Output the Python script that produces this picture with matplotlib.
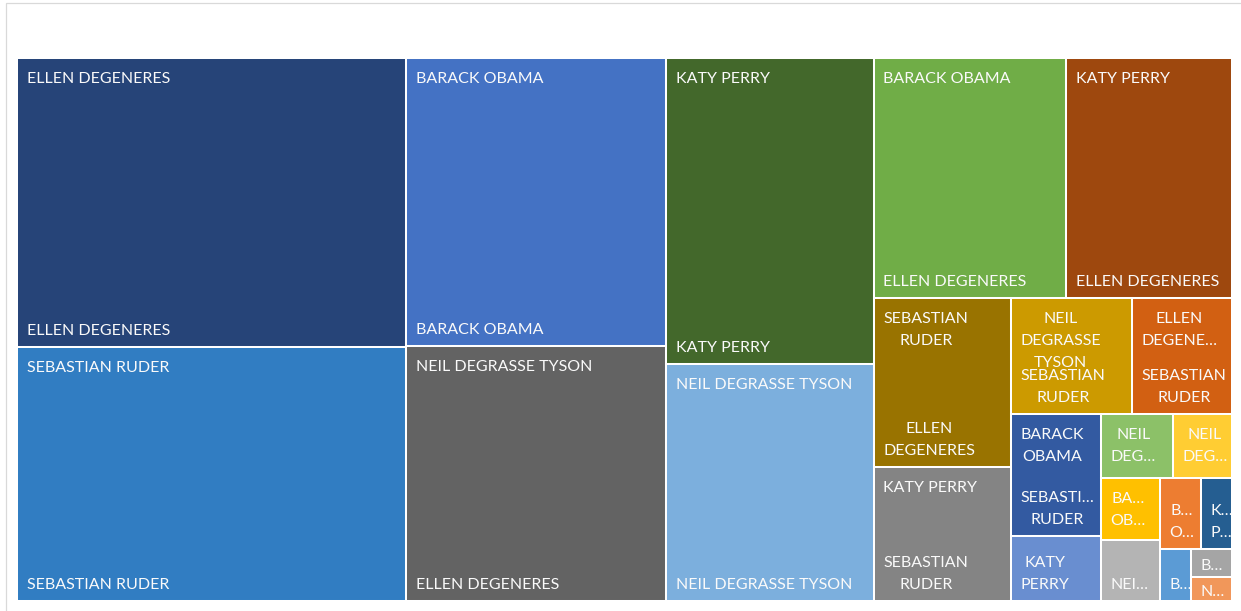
import matplotlib
matplotlib.use("Agg")
import matplotlib.pyplot as plt
from matplotlib.patches import Rectangle

# Leaf values, largest first (squarified order)
values = [170.3, 149.7, 113.5, 100.5, 96.5, 74.7, 69.9, 60.4, 35.1, 27.8,
          21.3, 17.6, 16.6, 8.9, 6.9, 5.7, 5.6, 5.4, 4.4, 3.4, 2.5, 1.7, 1.5]

top_labels = [
    "ELLEN DEGENERES", "SEBASTIAN RUDER", "BARACK OBAMA", "NEIL DEGRASSE TYSON",
    "KATY PERRY", "NEIL DEGRASSE TYSON", "BARACK OBAMA", "KATY PERRY",
    "SEBASTIAN\nRUDER", "KATY PERRY", "NEIL\nDEGRASSE\nTYSON", "ELLEN\nDEGENE\u2026",
    "BARACK\nOBAMA", "", "NEIL\nDEG\u2026", "NEIL\nDEG\u2026", "BA\u2026\nOB\u2026",
    "", "", "", "", "B\u2026", "",
]

bottom_labels = [
    "ELLEN DEGENERES", "SEBASTIAN RUDER", "BARACK OBAMA", "ELLEN DEGENERES",
    "KATY PERRY", "NEIL DEGRASSE TYSON", "ELLEN DEGENERES", "ELLEN DEGENERES",
    "ELLEN\nDEGENERES", "SEBASTIAN\nRUDER", "SEBASTIAN\nRUDER", "SEBASTIAN\nRUDER",
    "SEBASTI\u2026\nRUDER", "KATY\nPERRY", "", "", "",
    "NEI\u2026", "B\u2026\nO\u2026", "K\u2026\nP\u2026", "B\u2026", "", "N\u2026",
]

colors = [
    "#264478", "#317DC2", "#4472C4", "#636363", "#43682B", "#7CAFDD",
    "#70AD47", "#9E480E", "#997300", "#848484", "#CC9A00", "#D26012",
    "#335AA1", "#698ED0", "#8CC168", "#FFCD33", "#FFC000", "#B4B4B4",
    "#ED7D31", "#255E91", "#5B9BD5", "#A5A5A5", "#F1975A",
]

# How many leaves go into each successive strip of the squarified layout
strip_sizes = [2, 2, 2, 2, 2, 2, 2, 2, 2, 2, 1, 1, 1]

W_PX, H_PX = 1241, 611
fig = plt.figure(figsize=(W_PX / 100, H_PX / 100), dpi=100)
ax = fig.add_axes([0, 0, 1, 1])
ax.set_xlim(0, W_PX)
ax.set_ylim(H_PX, 0)
ax.axis("off")

# chart-area frame
ax.plot([6, 6, W_PX + 5], [H_PX + 5, 2.5, 2.5], color="#D9D9D9", lw=0.9,
        clip_on=False, solid_joinstyle="miter")


def squarify_strips(vals, x, y, w, h, strips):
    rects = []
    i = 0
    remaining = sum(vals)
    for n in strips:
        group = vals[i:i + n]
        s = sum(group)
        frac = s / remaining
        if w >= h:
            sw = w * frac
            yy = y
            for v in group:
                hh = h * v / s
                rects.append((x, yy, sw, hh))
                yy += hh
            x += sw
            w -= sw
        else:
            sh = h * frac
            xx = x
            for v in group:
                ww = w * v / s
                rects.append((xx, y, ww, sh))
                xx += ww
            y += sh
            h -= sh
        remaining -= s
        i += n
    return rects


PLOT_X0, PLOT_Y0, PLOT_X1, PLOT_Y1 = 17.3, 58.0, 1232.0, 601.0
rects = squarify_strips(values, PLOT_X0, PLOT_Y0, PLOT_X1 - PLOT_X0,
                        PLOT_Y1 - PLOT_Y0, strip_sizes)

FONT = dict(family="Lato", size=11.5, color="#FAFAFA")
CAP = 11.5
PITCH = 22.0
PAD_L = 9.5
FIRST_BASELINE = 25.0   # from tile top to first baseline
LAST_BASELINE = 12.0    # from tile bottom to last baseline

renderer = fig.canvas.get_renderer()


def draw_block(text, left, baselines):
    lines = text.split("\n")
    objs = [ax.text(left, b, ln, ha="center", va="baseline", **FONT)
            for ln, b in zip(lines, baselines)]
    widths = [o.get_window_extent(renderer).width for o in objs]
    bw = max(widths)
    for o in objs:
        o.set_x(left + bw / 2)


for (x, y, w, h), c, tl, bl in zip(rects, colors, top_labels, bottom_labels):
    ax.add_patch(Rectangle((x, y), w, h, facecolor=c, edgecolor="white",
                           lw=1.45, joinstyle="miter"))
    left = x + PAD_L
    if h < 35:
        lab = tl or bl
        n = len(lab.split("\n"))
        b0 = y + h / 2 + CAP / 2 + 1.5
        draw_block(lab, left, [b0 + k * PITCH for k in range(n)])
        continue
    if tl:
        n = len(tl.split("\n"))
        b0 = y + FIRST_BASELINE
        draw_block(tl, left, [b0 + k * PITCH for k in range(n)])
    if bl:
        n = len(bl.split("\n"))
        blast = y + h - LAST_BASELINE
        draw_block(bl, left, [blast - (n - 1 - k) * PITCH for k in range(n)])

fig.savefig("out.png", dpi=100, facecolor="white")
